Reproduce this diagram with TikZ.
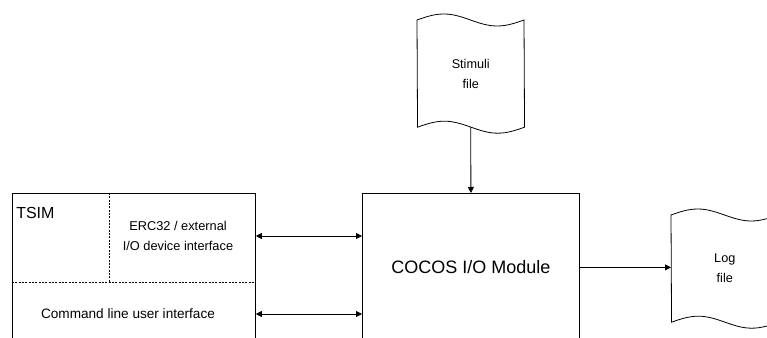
\documentclass[tikz,border=0pt]{standalone}
\usepackage{fontspec}
\setmainfont{Liberation Sans}
\usetikzlibrary{arrows.meta,positioning,calc}
\tikzset{
  unitbox/.style={
    draw,
    rectangle,
    line width=0.6pt,
    minimum height=111pt,
    inner sep=0pt,
    anchor=north west
  },
  docfile/.style={
    rectangle,
    minimum width=80.25pt,
    minimum height=80pt,
    inner sep=0pt,
    anchor=north west,
    align=center,
    font=\fontsize{9.5}{15}\selectfont
  },
  small/.style={align=center, font=\fontsize{9.6}{15}\selectfont},
  docline/.style={line width=0.6pt},
  divider/.style={line width=0.5pt, dash pattern=on 1.5pt off 1pt},
  flow/.style={-{Triangle[length=4.5pt,width=4.5pt]},line width=0.6pt},
  biflow/.style={{Triangle[length=4.5pt,width=4.5pt]}-{Triangle[length=4.5pt,width=4.5pt]},line width=0.6pt}
}
% wavy page outline round a docfile node
\newcommand\wavydoc[1]{%
  \draw[docline] (#1.north west) sin ++(26.75,-6) cos ++(26.75,6)
    sin ++(26.75,6) cos ++(26.75,-6) -- (#1.south east)
    sin ++(-26.75,6) cos ++(-26.75,-6) sin ++(-26.75,-6) cos ++(-26.75,6) -- cycle;}

\begin{document}
\begin{tikzpicture}[x=0.75pt,y=-0.75pt]
\useasboundingbox (0,0) rectangle (767,338);
\clip (0,0) rectangle (767,338);

\node[unitbox, minimum width=182.25pt] (tsim) at (12,193) {};
\node[unitbox, minimum width=162.75pt, font=\fontsize{13.5}{16}\selectfont] (cocos) at (362,193) {COCOS I/O Module};
\node[docfile] (stim) at (417,20) {Stimuli\\file};
\node[docfile] (log) at (671,215) {Log\\file};
\wavydoc{stim}
\wavydoc{log}

% parts of TSIM
\coordinate (split) at (12,282);
\draw[divider] (split) -- (split -| tsim.east);
\draw[divider] (109,193) -- (109,282);
\node[anchor=base west, font=\fontsize{12}{14}\selectfont, inner sep=0pt] (tsimlbl) at (16,219) {TSIM};
\node[small] (erc) at (178,236) {ERC32 / external\\I/O device interface};
\node[small, font=\fontsize{10.2}{15}\selectfont] (cli) at (128,314) {Command line user interface};

\draw[flow] (stim.south) -- (cocos.north);
\draw[biflow] (tsim.east |- erc) -- (cocos.west |- erc);
\draw[biflow] (tsim.east |- cli) -- (cocos.west |- cli);
\draw[flow] (cocos.east) -- (cocos.east -| log.west);
\end{tikzpicture}
\end{document}
